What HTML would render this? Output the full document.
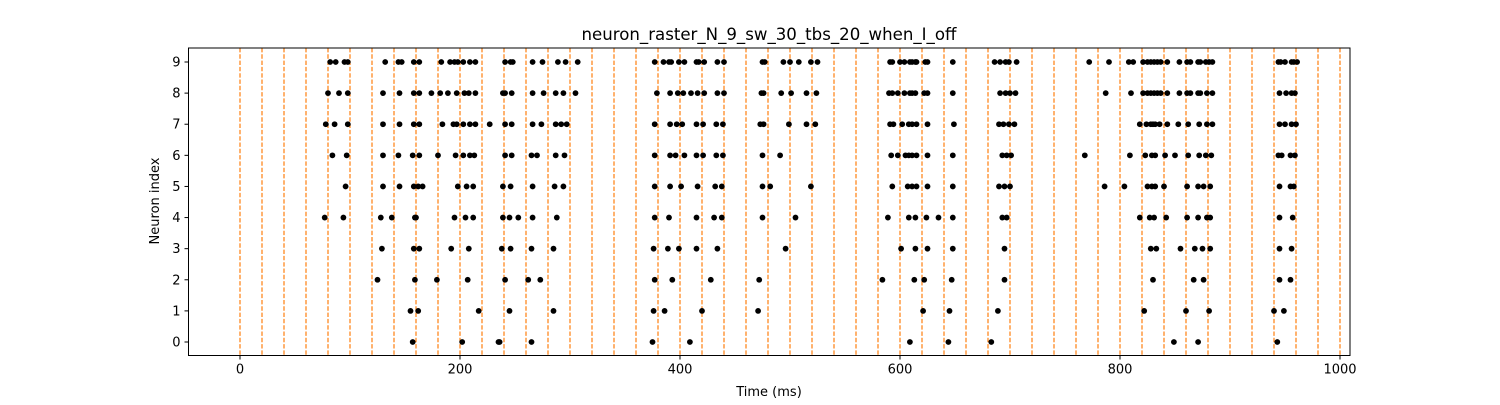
<!DOCTYPE html>
<html><head><meta charset="utf-8"><style>
body{margin:0;background:#fff}
svg text{font-family:"DejaVu Sans","Liberation Sans",sans-serif;fill:#000}
</style></head><body>
<svg id="chart" width="1500" height="400" xmlns="http://www.w3.org/2000/svg">
<text x="769" y="40" font-size="16.6" text-anchor="middle">neuron_raster_N_9_sw_30_tbs_20_when_I_off</text>
<g id="plot"></g>
<text x="769" y="396" font-size="13" text-anchor="middle">Time (ms)</text>
<text transform="translate(159,201) rotate(-90)" font-size="13" text-anchor="middle">Neuron index</text>
</svg>
<script>
const xTicks=[0,200,400,600,800,1000];
const yTicks=[0,1,2,3,4,5,6,7,8,9];
const vlineTimes=[0,20,40,60,80,100,120,140,160,180,200,220,240,260,280,300,320,340,360,380,400,420,440,460,480,500,520,540,560,580,600,620,640,660,680,700,720,740,760,780,800,820,840,860,880,900,920,940,960,980,1000];
const spikes9=[82,87,95,98,132,144,147,158,163,183,191,195,198,203,209,214,241,246,248,266,275,289,296,307,377,385,390,392,399,404,415,417,422,434,440,475,477,494,500,508,519,525,591,593,600,604,609,611,614,615,623,625,648,686,691,696,699,706,772,790,808,812,821,825,828,831,834,837,843,854,861,864,871,873,878,881,884,944,946,950,956,958,961];
const spikes8=[80,90,98,130,145,158,163,174,182,189,197,204,208,214,239,241,247,266,276,287,294,305,379,391,398,403,410,416,422,434,440,474,476,492,501,515,524,590,593,598,604,609,611,614,622,625,648,691,696,700,705,787,810,821,825,828,831,834,837,843,854,861,864,871,873,879,884,945,951,956,959];
const spikes7=[78,86,98,130,145,158,163,184,194,197,203,209,214,227,241,247,266,274,287,292,297,377,391,397,402,415,421,433,439,473,476,499,515,523,591,594,602,608,611,615,625,649,690,694,699,704,818,824,828,830,832,836,843,853,862,872,879,884,945,950,956,960];
const spikes6=[84,97,130,144,157,163,180,196,203,209,213,241,247,265,270,287,295,377,391,396,404,415,421,433,439,475,491,592,598,605,608,611,615,625,648,693,697,701,768,809,823,829,832,841,850,862,872,878,883,944,947,955,959];
const spikes5=[96,130,145,158,162,166,198,206,212,239,246,266,286,294,377,391,401,416,432,438,475,482,519,593,607,611,615,625,648,690,695,700,786,804,825,829,832,840,861,871,876,882,945,955,958];
const spikes4=[77,94,128,138,159,160,195,205,212,239,245,253,266,288,377,390,415,431,438,475,505,589,608,614,624,635,648,693,697,818,827,831,842,861,871,879,882,945,957];
const spikes3=[129,158,163,192,208,238,246,265,285,376,389,399,415,434,496,601,614,625,648,695,828,833,855,868,875,882,945,956];
const spikes2=[125,159,179,207,241,262,273,377,393,428,472,584,613,622,647,695,830,867,876,945,955];
const spikes1=[155,162,217,245,285,376,386,420,471,621,645,689,822,860,881,940,949];
const spikes0=[157,202,235,236,265,375,409,609,644,683,849,871,943];
const allSpikes=[spikes0,spikes1,spikes2,spikes3,spikes4,spikes5,spikes6,spikes7,spikes8,spikes9];

const NS="http://www.w3.org/2000/svg";
const L=188.5,R=1350,T=48,B=355.5;
const xs=t=>240+1.1*t;
const ys=i=>342-31.11*i;
const plot=document.getElementById('plot');
function mk(tag,attrs,parent){const e=document.createElementNS(NS,tag);for(const k in attrs)e.setAttribute(k,attrs[k]);(parent||plot).appendChild(e);return e;}

const gl=mk('g',{});


vlineTimes.forEach(t=>{
  const l=mk('line',{x1:xs(t),x2:xs(t),y1:T,y2:B,stroke:'#ff7f0e','stroke-width':1.2,'stroke-dasharray':'4.4,1.9'},gl);
  
  
});
const gd=mk('g',{});


allSpikes.forEach((arr,i)=>{
  arr.forEach(t=>{
    const c=mk('circle',{cx:xs(t),cy:ys(i),r:2.9,fill:'#000'},gd);
    
    
  });
});
const frame=mk('rect',{x:L,y:T,width:R-L,height:B-T,fill:'none',stroke:'#000','stroke-width':1});


xTicks.forEach(v=>{
  const tk=mk('line',{x1:xs(v),x2:xs(v),y1:B,y2:B+4,stroke:'#000'});
  
  
  const tx=mk('text',{x:xs(v),y:B+18,'font-size':13,'text-anchor':'middle'});
  tx.textContent=v;
  
  
});
yTicks.forEach(v=>{
  const tk=mk('line',{x1:L-4,x2:L,y1:ys(v),y2:ys(v),stroke:'#000'});
  
  
  const tx=mk('text',{x:L-8,y:ys(v)+4.5,'font-size':13,'text-anchor':'end'});
  tx.textContent=v;
  
  
});
</script>
</body></html>
